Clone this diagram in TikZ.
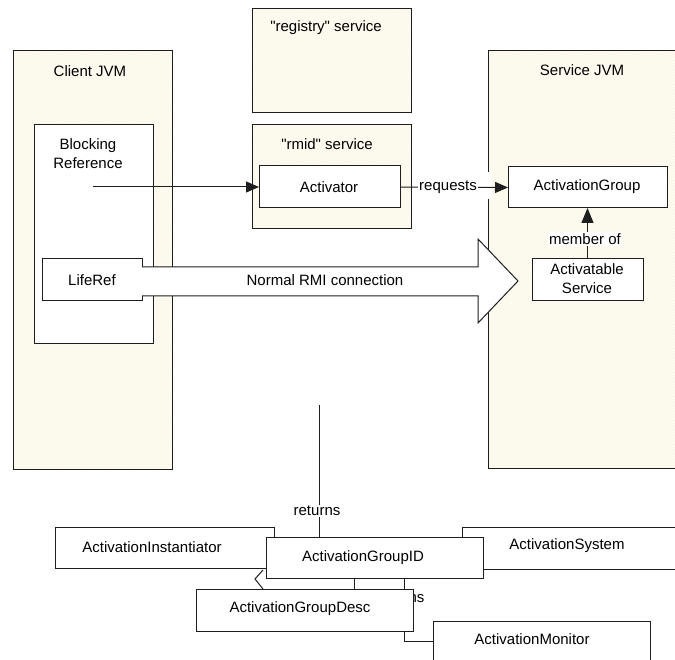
\documentclass[tikz,border=0pt]{standalone}
\usepackage{fontspec}
\newfontfamily\arialf{Liberation Sans}
\usetikzlibrary{arrows.meta,patterns}
\definecolor{cream}{RGB}{255,252,244}
\definecolor{hatch}{RGB}{251,244,226}
\definecolor{ink}{RGB}{30,30,30}
\begin{document}
\begin{tikzpicture}[x=1pt,y=-1pt,
  every node/.style={font=\arialf\fontsize{15}{19}\selectfont, inner sep=0pt, outer sep=0pt},
  frame/.style={rectangle, anchor=north west, draw=ink, line width=1pt, preaction={fill=cream}, preaction={pattern=north east lines, pattern color=hatch}},
  cbox/.style={draw=ink, line width=1pt, fill=white, rectangle, anchor=north west},
  conn/.style={draw=ink, line width=1pt},
  tri/.style={-{Triangle[width=11pt,length=13pt]}},
  lbl/.style={fill=white, inner sep=1pt}]
\useasboundingbox (0,0) rectangle (675,660);
\clip (0,0) rectangle (675,660);

% containers
\node[frame, minimum width=159pt, minimum height=418pt] (client) at (13,51) {};
\node (clientlbl) at (90,71) {Client JVM};
\node[cbox, minimum width=119pt, minimum height=219pt] (blockref) at (34,125) {};
\node[align=center] (blocklbl) at (88,154) {Blocking\\Reference};

\node[frame, minimum width=159pt, minimum height=104pt] (registry) at (252,9) {};
\node (registrylbl) at (326,28) {"registry" service};
\node[frame, minimum width=159pt, minimum height=104pt] (rmid) at (252,125) {};
\node (rmidlbl) at (327,144) {"rmid" service};
\node[cbox, minimum width=141pt, minimum height=42pt] (activator) at (259,166) {};
\node (activatorlbl) at (329,187) {Activator};

\node[frame, minimum width=230pt, minimum height=417pt] (service) at (488,51) {};
\node (servicelbl) at (582,70) {Service JVM};
\node[cbox, minimum width=159pt, minimum height=41pt] (actgroup) at (508,167) {};
\node (actgrouplbl) at (587,187) {ActivationGroup};
\node[cbox, minimum width=111pt, minimum height=42pt] (actserv) at (532,259) {};
\node[align=center] (actservlbl) at (587,279) {Activatable\\Service};

\node[cbox, minimum width=100pt, minimum height=42pt] (liferef) at (42,259) {};
\node (lifereflbl) at (92,280) {LifeRef};

% blocking reference -> Activator
\coordinate (bstart) at (93,187);
\draw[conn,tri] (bstart) -- (activator.west);

% Activator -> ActivationGroup
\fill[white] (485,172) rectangle (492,199);
\draw[conn,tri] (activator.east) -- (actgroup.west);
\node[lbl] (reqlbl) at (448,187) {requests};

% member of
\draw[conn,-{Triangle[width=12pt,length=15pt]}] (actserv.north) -- (actgroup.south -| actserv.north);
\node[lbl] (memberlbl) at (585,239) {member of};

% big arrow
\draw[conn, fill=white] (liferef.east |- 0,267) -- (478,267) -- (478,239) -- (518,281) -- (478,323) -- (478,296) -- (liferef.east |- 0,296);
\node (rmilbl) at (325,280) {Normal RMI connection};

% bottom classes
\node[cbox, minimum width=219pt, minimum height=41pt] (instantiator) at (55,527) {};
\node (instlbl) at (152,547) {ActivationInstantiator};
\node[cbox, minimum width=240pt, minimum height=42pt] (system) at (462,527) {};
\node (syslbl) at (567,546) {ActivationSystem};
\coordinate (chevA) at (263,570);
\coordinate (chevB) at (255,579);
\coordinate (chevC) at (263,589);
\draw[conn] (chevA) -- (chevB) -- (chevC);

\coordinate (retstart) at (319,405);
\node[cbox, minimum width=217pt, minimum height=41pt] (groupid) at (266,537) {};
\node (groupidlbl) at (363,558) {ActivationGroupID};
\draw[conn] (retstart) -- (retstart |- groupid.north);
\node[lbl] (retlbl) at (317,511) {returns};

\node[cbox, minimum width=217pt, minimum height=60pt] (monitor) at (433,621) {};
\node (monlbl) at (532,639) {ActivationMonitor};

\draw[conn] (groupid.south -| 404,0) |- (monitor.west |- 0,641);
\node (ret2lbl) at (401,598) {returns};
\draw[conn] (groupid.south -| 354,0) -- (354,589);

\node[cbox, minimum width=217pt, minimum height=42pt] (groupdesc) at (196,589) {};
\node (desclbl) at (300,609) {ActivationGroupDesc};
\end{tikzpicture}
\end{document}
